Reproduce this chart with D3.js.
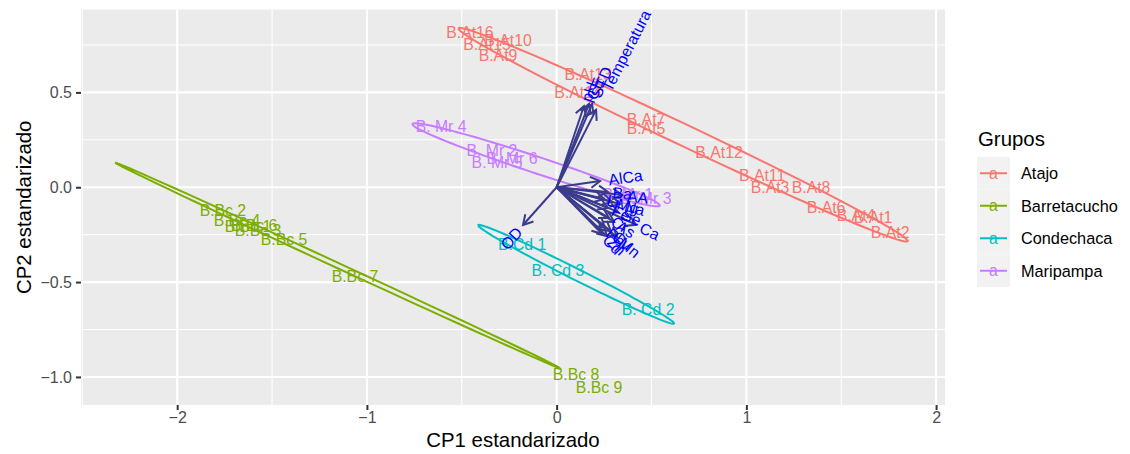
<!DOCTYPE html>
<html>
<head>
<meta charset="utf-8">
<script src="https://cdn.jsdelivr.net/npm/d3@7"></script>
<style>
  body { margin: 0; background: #ffffff; }
  text { font-family: "Liberation Sans", Arial, Helvetica, sans-serif; }
</style>
</head>
<body>
<svg id="chart" width="1130" height="454"></svg>
<script>
// ---- groups ----
const groups = ["Atajo", "Barretacucho", "Condechaca", "Maripampa"];
const groupColors = ["#F8766D", "#7CAE00", "#00BFC4", "#C77CFF"];

// ---- sample scores (standardised CP1 / CP2) ----
const sampleLabels = [
  "B.At16", "B.At10", "B.At15", "B.At9", "B.At13", "B.At14", "B.At7", "B.At5",
  "B.At12", "B.At11", "B.At3", "B.At8", "B.At6", "B.At4", "B.At1", "B.At2",
  "B.Bc 2", "B.Bc 4", "B.Bc 6", "B.Bc 3", "B.Bc 1", "B.Bc 5", "B.Bc 7", "B.Bc 8", "B.Bc 9",
  "B.Cd 1", "B. Cd 3", "B. Cd 2",
  "B. Mr 4", "B. Mr 2", "B. Mr 6", "B. Mr 5", "B. Mr 1", "B. Mr 3"
];
const sampleGroup = [
  "Atajo", "Atajo", "Atajo", "Atajo", "Atajo", "Atajo", "Atajo", "Atajo",
  "Atajo", "Atajo", "Atajo", "Atajo", "Atajo", "Atajo", "Atajo", "Atajo",
  "Barretacucho", "Barretacucho", "Barretacucho", "Barretacucho", "Barretacucho",
  "Barretacucho", "Barretacucho", "Barretacucho", "Barretacucho",
  "Condechaca", "Condechaca", "Condechaca",
  "Maripampa", "Maripampa", "Maripampa", "Maripampa", "Maripampa", "Maripampa"
];
const cp1 = [
  -0.457, -0.256, -0.367, -0.309, 0.166, 0.113, 0.471, 0.471,
  0.856, 1.083, 1.125, 1.341, 1.420, 1.578, 1.668, 1.758,
  -1.759, -1.685, -1.595, -1.574, -1.627, -1.437, -1.063, 0.102, 0.224,
  -0.182, 0.007, 0.482,
  -0.609, -0.341, -0.235, -0.314, 0.376, 0.471
];
const cp2 = [
  0.819, 0.776, 0.755, 0.697, 0.597, 0.502, 0.360, 0.313,
  0.186, 0.065, 0.002, 0.002, -0.104, -0.146, -0.157, -0.236,
  -0.120, -0.172, -0.199, -0.225, -0.204, -0.273, -0.468, -0.984, -1.053,
  -0.299, -0.436, -0.642,
  0.323, 0.197, 0.154, 0.133, -0.035, -0.061
];

// ---- variable loadings (arrows) ----
const varNames = [
  "pH", "CE", "STD", "Temperatura", "OD", "AlCa",
  "Ba", "AA", "Li", "Mg", "Na", "Fe", "Se", "Ca",
  "Cr", "As", "Pb", "Cu", "Cd", "Zn", "Mn"
];
const varCP1 = [
  0.144, 0.171, 0.187, 0.208, -0.177, 0.229,
  0.271, 0.345, 0.250, 0.292, 0.334, 0.271, 0.324, 0.419,
  0.276, 0.303, 0.255, 0.286, 0.239, 0.265, 0.318
];
const varCP2 = [
  0.428, 0.439, 0.439, 0.408, -0.199, 0.033,
  -0.025, -0.041, -0.062, -0.077, -0.088, -0.109, -0.130, -0.198,
  -0.162, -0.183, -0.214, -0.232, -0.245, -0.258, -0.262
];

// ---- axes ----
const xTicks = [-2, -1, 0, 1, 2];
const xTickLabels = ["\u22122", "\u22121", "0", "1", "2"];
const xMinor = [-2.5, -1.5, -0.5, 0.5, 1.5];
const yTicks = [-1.0, -0.5, 0.0, 0.5];
const yTickLabels = ["\u22121.0", "\u22120.5", "0.0", "0.5"];
const yMinor = [-0.75, -0.25, 0.25, 0.75];
const xTitle = "CP1 estandarizado";
const yTitle = "CP2 estandarizado";
const legendTitle = "Grupos";

// ---- layout ----
const panel = { left: 81, right: 945, top: 9.5, bottom: 405 };
const svg = d3.select("#chart");

const x = d3.scaleLinear().domain([-2.507, 2.047]).range([panel.left, panel.right]);
const y = d3.scaleLinear().domain([-1.148, 0.937]).range([panel.bottom, panel.top]);
const color = d3.scaleOrdinal().domain(groups).range(groupColors);

svg.append("rect").attr("width", 1130).attr("height", 454).attr("fill", "#ffffff");

svg.append("defs").append("clipPath").attr("id", "panel-clip")
  .append("rect")
  .attr("x", panel.left).attr("y", panel.top)
  .attr("width", panel.right - panel.left).attr("height", panel.bottom - panel.top);

svg.append("rect")
  .attr("x", panel.left).attr("y", panel.top)
  .attr("width", panel.right - panel.left).attr("height", panel.bottom - panel.top)
  .attr("fill", "#EBEBEB");

const grid = svg.append("g").attr("clip-path", "url(#panel-clip)");
grid.selectAll("line.xminor").data(xMinor).join("line")
  .attr("x1", d => x(d)).attr("x2", d => x(d))
  .attr("y1", panel.top).attr("y2", panel.bottom)
  .attr("stroke", "#ffffff").attr("stroke-width", 1.1);
grid.selectAll("line.yminor").data(yMinor).join("line")
  .attr("y1", d => y(d)).attr("y2", d => y(d))
  .attr("x1", panel.left).attr("x2", panel.right)
  .attr("stroke", "#ffffff").attr("stroke-width", 1.1);
grid.selectAll("line.xmajor").data(xTicks).join("line")
  .attr("x1", d => x(d)).attr("x2", d => x(d))
  .attr("y1", panel.top).attr("y2", panel.bottom)
  .attr("stroke", "#ffffff").attr("stroke-width", 2.1);
grid.selectAll("line.ymajor").data(yTicks).join("line")
  .attr("y1", d => y(d)).attr("y2", d => y(d))
  .attr("x1", panel.left).attr("x2", panel.right)
  .attr("stroke", "#ffffff").attr("stroke-width", 2.1);

// ---- axes via d3 ----
const xAxis = d3.axisBottom(x).tickValues(xTicks)
  .tickFormat((d, i) => xTickLabels[i]).tickSize(5).tickPadding(2);
const gx = svg.append("g").attr("transform", `translate(0,${panel.bottom})`).call(xAxis);
gx.select(".domain").remove();
gx.selectAll(".tick line").attr("stroke", "#333333").attr("stroke-width", 2);
gx.selectAll(".tick text").attr("fill", "#4D4D4D").attr("font-size", 16)
  .attr("font-family", "Liberation Sans, Arial, sans-serif");

const yAxis = d3.axisLeft(y).tickValues(yTicks)
  .tickFormat((d, i) => yTickLabels[i]).tickSize(5).tickPadding(4);
const gy = svg.append("g").attr("transform", `translate(${panel.left},0)`).call(yAxis);
gy.select(".domain").remove();
gy.selectAll(".tick line").attr("stroke", "#333333").attr("stroke-width", 2);
gy.selectAll(".tick text").attr("fill", "#4D4D4D").attr("font-size", 16)
  .attr("font-family", "Liberation Sans, Arial, sans-serif");

svg.append("text").attr("x", (panel.left + panel.right) / 2).attr("y", 447)
  .attr("text-anchor", "middle").attr("font-size", 20.4).attr("fill", "#000")
  .text(xTitle);
svg.append("text")
  .attr("transform", `translate(31,${(panel.top + panel.bottom) / 2}) rotate(-90)`)
  .attr("text-anchor", "middle").attr("font-size", 20.4).attr("fill", "#000")
  .text(yTitle);

// ---- plot layers ----
const plot = svg.append("g").attr("clip-path", "url(#panel-clip)");

const samples = sampleLabels.map((lab, i) => ({
  label: lab, group: sampleGroup[i], x: cp1[i], y: cp2[i]
}));

// normal-theory data ellipse (68%) per group
const ellipseProb = 0.68;
const ed = Math.sqrt(-2 * Math.log(1 - ellipseProb));
function groupEllipse(pts) {
  const n = pts.length;
  const mx = d3.mean(pts, p => p.x), my = d3.mean(pts, p => p.y);
  let sxx = 0, syy = 0, sxy = 0;
  pts.forEach(p => {
    sxx += (p.x - mx) ** 2; syy += (p.y - my) ** 2; sxy += (p.x - mx) * (p.y - my);
  });
  sxx /= (n - 1); syy /= (n - 1); sxy /= (n - 1);
  const r11 = Math.sqrt(sxx), r12 = sxy / r11, r22 = Math.sqrt(Math.max(syy - r12 * r12, 0));
  const out = [];
  const steps = 100;
  for (let k = 0; k <= steps; k++) {
    const t = -Math.PI + 2 * Math.PI * k / steps;
    const c = Math.cos(t), s = Math.sin(t);
    out.push([mx + ed * c * r11, my + ed * (c * r12 + s * r22)]);
  }
  return out;
}
const ellLine = d3.line().x(d => x(d[0])).y(d => y(d[1]));
groups.forEach(g => {
  const pts = samples.filter(s => s.group === g);
  plot.append("path")
    .attr("d", ellLine(groupEllipse(pts)))
    .attr("fill", "none").attr("stroke", color(g)).attr("stroke-width", 2);
});

// sample labels
plot.selectAll("text.sample").data(samples).join("text")
  .attr("class", "sample")
  .attr("x", d => x(d.x)).attr("y", d => y(d.y))
  .attr("dy", "0.36em")
  .attr("text-anchor", "middle")
  .attr("font-size", 15.8)
  .attr("fill", d => color(d.group))
  .text(d => d.label);

// loading arrows
const arrowColor = "#3B3B8E";
const headLen = 11;
const vars = varNames.map((v, i) => ({ name: v, x: varCP1[i], y: varCP2[i] }));
const arrows = plot.append("g");
vars.forEach(v => {
  const x0 = x(0), y0 = y(0), x1 = x(v.x), y1 = y(v.y);
  const ang = Math.atan2(y1 - y0, x1 - x0);
  const a1 = ang + Math.PI - Math.PI / 6, a2 = ang + Math.PI + Math.PI / 6;
  arrows.append("line")
    .attr("x1", x0).attr("y1", y0).attr("x2", x1).attr("y2", y1)
    .attr("stroke", arrowColor).attr("stroke-width", 2);
  arrows.append("path")
    .attr("d", `M${x1 + headLen * Math.cos(a1)},${y1 + headLen * Math.sin(a1)}L${x1},${y1}L${x1 + headLen * Math.cos(a2)},${y1 + headLen * Math.sin(a2)}`)
    .attr("fill", "none").attr("stroke", arrowColor).attr("stroke-width", 2)
    .attr("stroke-linejoin", "miter");
});

// variable names, rotated along each arrow
const varAdjust = 1.5;
const varText = plot.append("g");
vars.forEach(v => {
  const angleDeg = Math.atan(v.y / v.x) * 180 / Math.PI;
  const hjust = (1 - varAdjust * Math.sign(v.x)) / 2;
  const t = varText.append("text")
    .attr("font-size", 15.8).attr("fill", "#0000FF")
    .attr("dy", "0.36em")
    .text(v.name);
  const w = t.node().getComputedTextLength();
  t.attr("x", -hjust * w).attr("y", 0)
    .attr("transform", `translate(${x(v.x)},${y(v.y)}) rotate(${-angleDeg})`);
});

// ---- legend ----
const legend = svg.append("g");
legend.append("text").attr("x", 978).attr("y", 146)
  .attr("font-size", 20.4).attr("fill", "#000").text(legendTitle);
const keyTop = 157, keyH = 32.5, keyX = 977, keyW = 33;
groups.forEach((g, i) => {
  const ky = keyTop + i * keyH;
  legend.append("rect").attr("x", keyX).attr("y", ky)
    .attr("width", keyW).attr("height", keyH).attr("fill", "#F2F2F2");
  legend.append("line")
    .attr("x1", keyX + 3).attr("x2", keyX + keyW - 3)
    .attr("y1", ky + keyH / 2).attr("y2", ky + keyH / 2)
    .attr("stroke", color(g)).attr("stroke-width", 2);
  legend.append("text").attr("x", keyX + keyW / 2).attr("y", ky + keyH / 2)
    .attr("dy", "0.36em").attr("text-anchor", "middle")
    .attr("font-size", 15.8).attr("fill", color(g)).text("a");
  legend.append("text").attr("x", 1021).attr("y", ky + keyH / 2)
    .attr("dy", "0.36em").attr("font-size", 16.3).attr("fill", "#000").text(g);
});
</script>
</body>
</html>
